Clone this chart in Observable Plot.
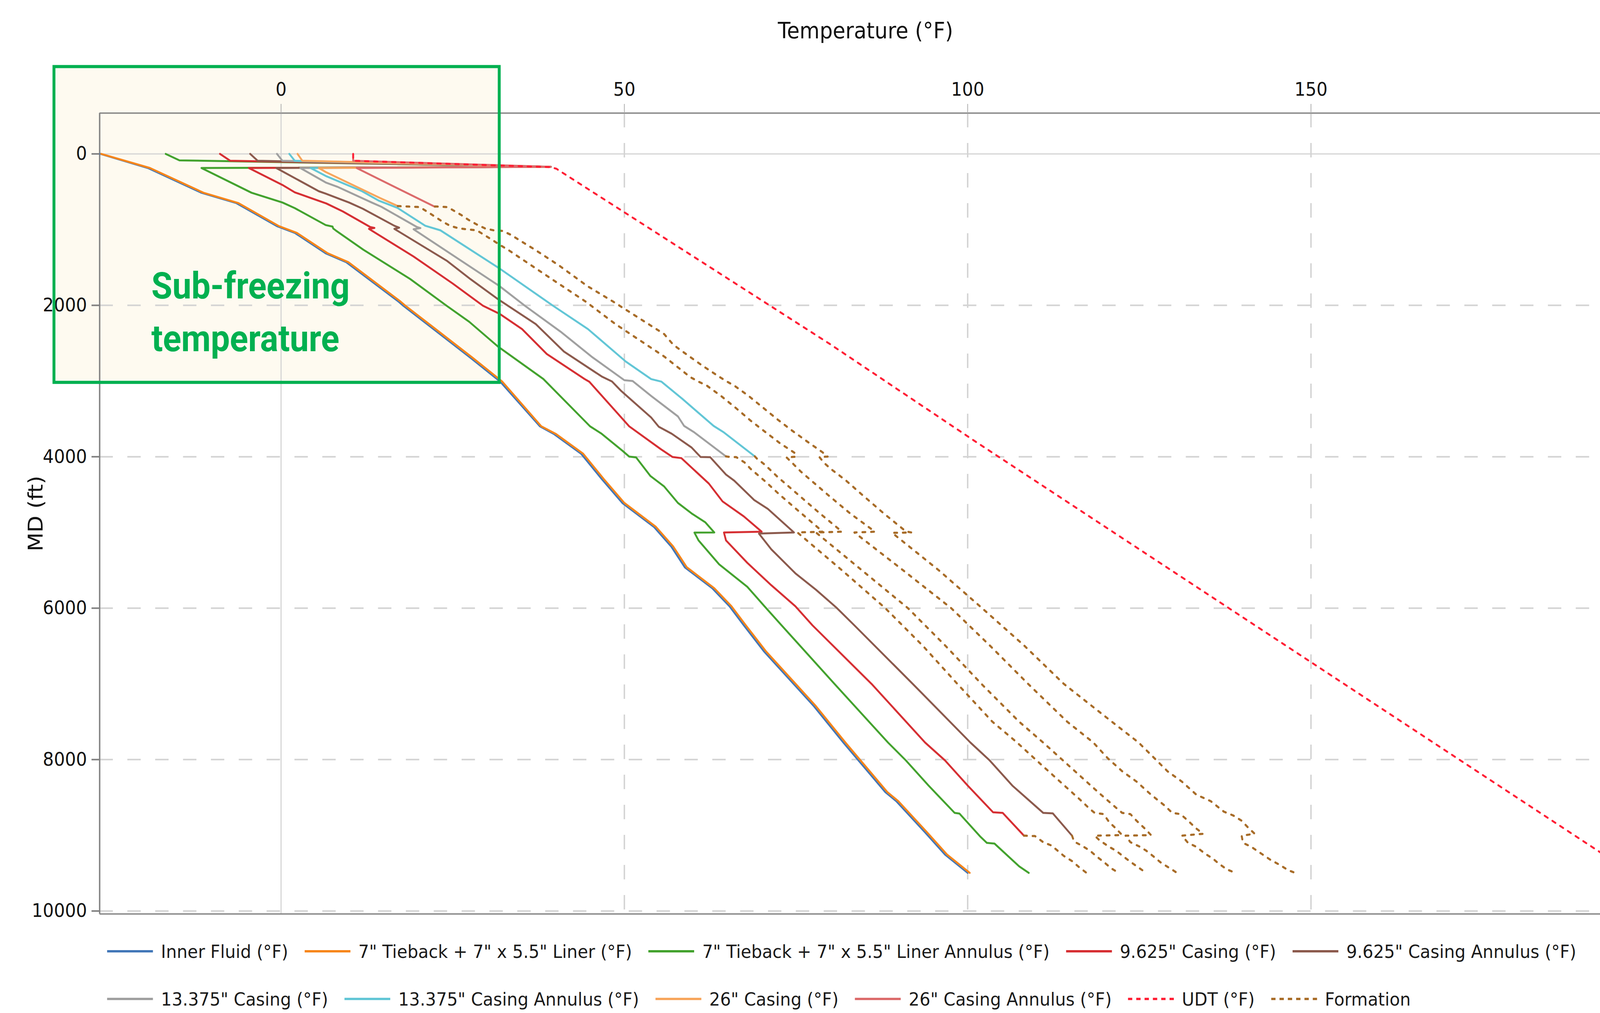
<!DOCTYPE html>
<html><head><meta charset="utf-8">
<script src="https://cdn.jsdelivr.net/npm/d3@7"></script>
<script src="https://cdn.jsdelivr.net/npm/@observablehq/plot@0.6"></script>
<style>
html,body{margin:0;padding:0;background:#fff;overflow:hidden;}
#outer{position:relative;overflow:hidden;background:#fff;}
#wrap{position:absolute;left:0;top:0;width:4423px;height:2593px;overflow:hidden;background:#fff;font-family:"DejaVu Sans",sans-serif;transform-origin:0 0;}
#chart{position:absolute;left:0;top:0;}
.lrow{position:absolute;left:296px;display:flex;align-items:center;height:60px;white-space:nowrap;font-size:47px;color:#1a1a1a;}
.litem{display:flex;align-items:center;margin-right:45px;}
.litem svg{display:block;margin-right:22px;}
</style></head>
<body>
<div id="outer"><div id="wrap"><div id="chart"></div><div class="lrow" id="row1" style="top:2405px"></div><div class="lrow" id="row2" style="top:2527px"></div></div></div>
<script>
// ---------- data: [MD (ft), Temperature (°F)] ----------
const innerFluid = [[0,-26.3],[186,-19.4],[513,-11.6],[650,-6.5],[954,-0.6],[1043,2.0],[1313,6.5],[1430,9.5],[1950,17.1],[2005,17.8],[2306,22.1],[2693,27.6],[3006,31.9],[3598,37.7],[3697,39.7],[3960,43.7],[4294,46.7],[4610,49.7],[4926,54.3],[5183,56.8],[5460,58.8],[5737,62.8],[5974,65.3],[6227,67.4],[6567,70.3],[7294,77.6],[7775,81.9],[8429,88.0],[8549,89.6],[8962,93.8],[9255,96.7],[9496,100.0]];
const liner = [[0,-26.2],[186,-19.1],[513,-11.3],[650,-6.2],[954,-0.3],[1043,2.3],[1313,6.8],[1430,9.8],[1950,17.4],[2005,18.1],[2306,22.4],[2693,27.9],[3006,32.2],[3598,37.9],[3697,40.0],[3960,44.0],[4294,47.0],[4610,50.0],[4926,54.6],[5183,57.1],[5460,59.1],[5737,63.1],[5974,65.6],[6227,67.7],[6567,70.6],[7294,77.9],[7775,82.2],[8429,88.3],[8549,89.9],[8962,94.1],[9255,97.0],[9496,100.3]];
const linerAnnulus = [[0,-16.8],[85,-14.8],[170,39.3],[186,-11.6],[513,-4.3],[642,0.2],[716,2.0],[940,6.5],[960,7.5],[986,7.6],[1013,8.0],[1266,12.0],[1652,18.8],[2005,24.1],[2217,27.4],[2545,31.6],[2973,38.2],[3598,45.0],[3697,46.7],[3919,49.7],[3998,50.7],[4008,51.7],[4255,53.8],[4393,55.8],[4610,57.8],[4749,59.8],[4867,61.8],[5000,63.1],[5002,60.2],[5105,60.8],[5421,63.8],[5717,67.9],[5974,70.4],[6227,72.9],[7000,80.6],[7775,88.4],[8011,91.0],[8343,94.3],[8704,98.1],[8713,98.8],[9014,101.8],[9100,102.8],[9109,103.9],[9410,107.5],[9496,108.9]];
const casing9625 = [[0,-8.9],[91,-7.4],[170,39.3],[186,-4.7],[410,0.2],[508,2.0],[655,6.6],[760,9.0],[966,13.0],[978,13.6],[990,12.8],[1355,19.3],[1712,25.0],[2005,29.4],[2116,31.9],[2314,35.1],[2643,38.7],[2973,44.2],[3010,44.9],[3598,50.7],[3899,55.3],[4003,57.0],[4018,58.3],[4354,62.3],[4590,64.3],[4788,67.4],[4990,70.0],[5000,64.5],[5105,64.8],[5401,67.9],[5697,71.4],[5974,74.9],[6227,77.4],[7000,86.0],[7775,93.8],[8011,96.7],[8343,100.0],[8696,103.7],[8704,105.1],[9005,108.2]];
const casing9625Annulus = [[0,-4.5],[91,-3.4],[170,39.3],[186,-0.7],[493,5.5],[525,6.5],[642,9.9],[724,11.9],[949,16.5],[975,17.2],[990,16.5],[1415,24.2],[1655,27.6],[1919,31.6],[2248,37.1],[2610,41.2],[2940,46.7],[3006,48.2],[3128,49.5],[3481,53.9],[3603,55.0],[3696,56.9],[3879,59.8],[4003,61.1],[4006,62.5],[4235,64.8],[4316,66.0],[4571,68.9],[4689,70.9],[5000,74.7],[5015,69.6],[5223,71.4],[5539,74.9],[5756,77.9],[5994,80.9],[6227,83.5],[7000,92.0],[7775,100.4],[8011,103.2],[8343,106.5],[8704,111.0],[8710,112.4],[9005,115.2]];
const casing13375 = [[0,-0.6],[91,0.2],[170,39.3],[186,2.8],[377,6.5],[434,8.2],[642,13.2],[698,14.6],[966,19.8],[980,20.3],[995,19.3],[1745,31.8],[2005,35.5],[2347,40.7],[2676,45.2],[2989,50.0],[2999,51.2],[3197,53.9],[3467,57.8],[3593,58.7],[3679,60.2],[3995,64.8]];
const casing13375Annulus = [[0,1.2],[91,2.0],[170,39.3],[186,4.3],[291,6.5],[493,11.8],[616,14.2],[715,17.0],[949,21.0],[1009,23.2],[1512,31.8],[2005,39.6],[2314,44.7],[2742,50.2],[2974,53.9],[3008,55.4],[3232,58.4],[3593,63.0],[3679,64.5],[3995,69.0]];
const casing26 = [[0,2.4],[91,3.1],[170,39.3],[186,5.5],[239,6.5],[582,14.4],[689,17.0]];
const casing26Annulus = [[0,10.5],[91,10.5],[170,39.3],[186,11.0],[340,14.4],[698,22.4]];
const udt = [[0,10.5],[91,10.5],[175,39.3],[196,40.1],[2509,79.9],[3791,101.0],[9217,192.0],[9300,193.4]];
const formationA = [[689,17.0],[702,20.2],[758,21.2],[828,22.4],[888,23.4],[949,24.6],[984,25.9],[1010,28.5],[1070,29.6],[1139,30.8],[1209,32.0],[1269,33.1],[1676,39.8],[1953,44.4],[2248,48.7],[2676,55.8],[2948,59.6],[3008,60.8],[3060,62.0],[3206,64.2],[3361,66.3],[3524,68.4],[3671,70.5],[3817,72.6],[3955,74.9],[4000,75.0],[4007,73.6],[4077,74.4],[4196,75.7],[4500,79.6],[4750,82.9],[4990,86.5],[5000,83.5],[5500,90.6],[6000,97.6],[6500,103.3],[7000,108.8],[7500,114.5],[7775,118.3],[7982,120.4],[8154,122.5],[8291,124.6],[8463,126.7],[8601,128.6],[8704,129.8],[8720,131.0],[8808,132.1],[8911,133.3],[8980,134.3],[9005,131.2],[9100,132.1],[9152,133.3],[9238,134.5],[9307,135.7],[9376,136.6],[9453,137.8],[9496,139.0]];
const formationB = [[694,22.4],[702,24.2],[741,25.0],[810,26.3],[871,27.3],[932,28.5],[984,29.7],[1010,31.0],[1018,32.3],[1070,33.5],[1139,34.7],[1261,36.9],[1468,40.4],[1745,44.6],[1953,48.4],[2380,55.8],[2518,57.1],[2586,58.1],[2793,61.3],[2931,63.6],[3000,64.8],[3060,66.0],[3197,68.1],[3352,70.2],[3507,72.3],[3653,74.4],[3791,76.5],[3937,78.8],[3998,79.6],[4003,78.4],[4083,79.1],[4170,80.2],[4239,81.2],[4316,82.3],[4500,84.6],[4750,87.8],[4986,91.0],[5000,91.8],[5005,89.0],[5500,95.8],[6000,102.1],[6500,108.3],[7000,114.0],[7500,121.0],[7775,124.9],[7982,127.2],[8154,129.1],[8291,131.2],[8463,133.3],[8549,135.4],[8687,137.3],[8739,138.7],[8808,139.9],[8894,140.8],[8980,141.8],[9005,139.9],[9100,140.1],[9152,141.3],[9238,142.7],[9324,144.1],[9393,145.5],[9462,146.7],[9496,147.7]];
const formationC = [[3995,64.8],[4000,65.1],[4005,66.3],[4075,67.5],[4161,68.4],[4239,69.4],[4316,70.4],[4500,72.6],[4750,75.8],[4990,78.9],[5000,75.2],[5500,81.7],[6000,88.0],[6500,93.5],[7000,98.5],[7500,103.6],[7775,107.2],[8033,110.3],[8205,112.4],[8377,114.5],[8532,116.4],[8653,117.8],[8704,118.5],[8720,119.8],[8825,120.6],[8911,121.6],[8997,122.5],[9005,118.5],[9066,119.2],[9152,120.6],[9203,121.6],[9281,122.7],[9350,123.7],[9427,124.9],[9496,126.0]];
const formationD = [[3995,69.0],[4024,69.3],[4101,70.4],[4178,71.3],[4265,72.3],[4500,75.3],[4750,78.5],[4990,81.7],[5000,77.9],[5500,84.6],[6000,91.3],[6500,96.8],[7000,102.0],[7500,107.5],[7775,111.0],[7947,113.1],[8119,115.2],[8291,117.3],[8446,119.2],[8635,121.6],[8704,122.5],[8720,123.7],[8808,124.6],[8911,125.8],[8997,126.7],[9005,123.0],[9091,123.7],[9152,125.1],[9203,126.0],[9289,127.2],[9358,128.1],[9427,129.3],[9496,130.5]];
const formationE = [[9005,108.2],[9010,109.8],[9091,111.0],[9135,112.2],[9203,113.1],[9272,114.0],[9341,115.2],[9419,116.2],[9496,117.3]];
const formationF = [[9005,115.2],[9083,115.5],[9135,116.6],[9203,117.8],[9281,118.8],[9358,119.9],[9436,120.9],[9496,122.0]];

const xTicks = [0, 50, 100, 150];
const yTicks = [0, 2000, 4000, 6000, 8000, 10000];
const seriesNames = ["Inner Fluid (°F)", "7\" Tieback + 7\" x 5.5\" Liner (°F)", "7\" Tieback + 7\" x 5.5\" Liner Annulus (°F)", "9.625\" Casing (°F)", "9.625\" Casing Annulus (°F)", "13.375\" Casing (°F)", "13.375\" Casing Annulus (°F)", "26\" Casing (°F)", "26\" Casing Annulus (°F)", "UDT (°F)", "Formation"];
const seriesColors = ["#4277b8", "#f7861b", "#43a22e", "#d62f33", "#8c5a4d", "#a0a0a0", "#62c6d6", "#f7a55c", "#dc6b6b", "#ff1f35", "#a86c28"];
const xTitle = "Temperature (°F)";
const yTitle = "MD (ft)";
const noteLines = ["Sub-freezing", "temperature"];
const noteBoxT = [-33.05, 31.8];
const noteBoxMD = [-1151, 3020];

// ---------- fit the 4423x2593 design to the actual viewport ----------
const DESIGN_W = 4423, DESIGN_H = 2593;
const vw = window.innerWidth || DESIGN_W, vh = window.innerHeight || DESIGN_H;
const sx = vw / DESIGN_W, sy = vh / DESIGN_H;
const outer = document.getElementById("outer");
outer.style.width = vw + "px";
outer.style.height = vh + "px";
document.getElementById("wrap").style.transform = `scale(${sx}, ${sy})`;

// ---------- chart ----------
const X_DOMAIN = [-26.42, 192.12];
const Y_DOMAIN = [-539, 10039];
const W = DESIGN_W, H = 2380;
const solidSeries = [innerFluid, liner, linerAnnulus, casing9625, casing9625Annulus, casing13375, casing13375Annulus, casing26, casing26Annulus];
const formations = [formationA, formationB, formationC, formationD, formationE, formationF];
const box = [{t1: noteBoxT[0], t2: noteBoxT[1], md1: noteBoxMD[0], md2: noteBoxMD[1]}];
const X = d => d[1], Y = d => d[0];

const marks = [
  Plot.rect(box, {x1: "t1", x2: "t2", y1: "md1", y2: "md2", fill: "#fefaf0"}),
  Plot.ruleX(xTicks.filter(t => t !== 0), {stroke: "#d3d3d3", strokeWidth: 4, strokeDasharray: "37,40"}),
  Plot.ruleY(yTicks.filter(t => t !== 0), {stroke: "#d3d3d3", strokeWidth: 4, strokeDasharray: "37,40"}),
  Plot.ruleX([0], {stroke: "#d4d4d4", strokeWidth: 3}),
  Plot.ruleY([0], {stroke: "#d4d4d4", strokeWidth: 3}),
  Plot.ruleY(Y_DOMAIN, {stroke: "#868686", strokeWidth: 3.5}),
  Plot.ruleX([X_DOMAIN[0]], {stroke: "#868686", strokeWidth: 4}),
  Plot.axisX({ticks: xTicks, anchor: "top", tickSize: 24, tickPadding: 21, fontSize: 48, stroke: "#a8a8a8", strokeWidth: 2, fill: "#111", label: null, tickFormat: d3.format("d")}),
  Plot.axisY({ticks: yTicks, anchor: "left", tickSize: 22, tickPadding: 13, fontSize: 48, stroke: "#808080", strokeWidth: 4, fill: "#111", label: null, tickFormat: d3.format("d")})
];
solidSeries.forEach((s, i) => marks.push(Plot.line(s, {x: X, y: Y, stroke: seriesColors[i], strokeWidth: 5, strokeLinejoin: "round"})));
marks.push(Plot.line(udt, {x: X, y: Y, stroke: seriesColors[9], strokeWidth: 5, strokeDasharray: "10,15"}));
formations.forEach(f => marks.push(Plot.line(f, {x: X, y: Y, stroke: seriesColors[10], strokeWidth: 5.5, strokeDasharray: "8,16"})));
marks.push(
  Plot.rect(box, {x1: "t1", x2: "t2", y1: "md1", y2: "md2", fill: "none", stroke: "#00b050", strokeWidth: 8}),
  Plot.text([noteLines[0]], {frameAnchor: "top-left", dx: 143, dy: 444, textAnchor: "start", lineAnchor: "middle", fontSize: 94, fontWeight: 700, fontFamily: "Roboto", fill: "#00b050"}),
  Plot.text([noteLines[1]], {frameAnchor: "top-left", dx: 143, dy: 579, textAnchor: "start", lineAnchor: "middle", fontSize: 94, fontWeight: 700, fontFamily: "Roboto", fill: "#00b050"}),
  Plot.text([xTitle], {frameAnchor: "top", dx: 43, dy: -210, fontSize: 57, fill: "#111", lineAnchor: "middle"}),
  Plot.text([yTitle], {frameAnchor: "left", dx: -176, rotate: -90, textAnchor: "middle", fontSize: 56, fill: "#111", lineAnchor: "middle"})
);

const chart = Plot.plot({
  width: W, height: H,
  marginLeft: 275, marginRight: 0, marginTop: 289, marginBottom: H - 2339,
  style: {background: "transparent", fontFamily: "DejaVu Sans, sans-serif", overflow: "visible"},
  x: {domain: X_DOMAIN, axis: null},
  y: {domain: Y_DOMAIN, reverse: true, axis: null},
  marks
});
document.getElementById("chart").appendChild(chart);

// ---------- legend ----------
function legendItem(i) {
  const dashed = i >= 9;
  const div = document.createElement("div");
  div.className = "litem";
  div.innerHTML = `<svg width="127" height="12"><line x1="0" x2="127" y1="6" y2="6" stroke="${seriesColors[i]}" stroke-width="6" ${dashed ? 'stroke-dasharray="12,11"' : ''}/></svg><span>${seriesNames[i]}</span>`;
  return div;
}
[0,1,2,3,4].forEach(i => document.getElementById("row1").appendChild(legendItem(i)));
[5,6,7,8,9,10].forEach(i => document.getElementById("row2").appendChild(legendItem(i)));
</script>
</body></html>
